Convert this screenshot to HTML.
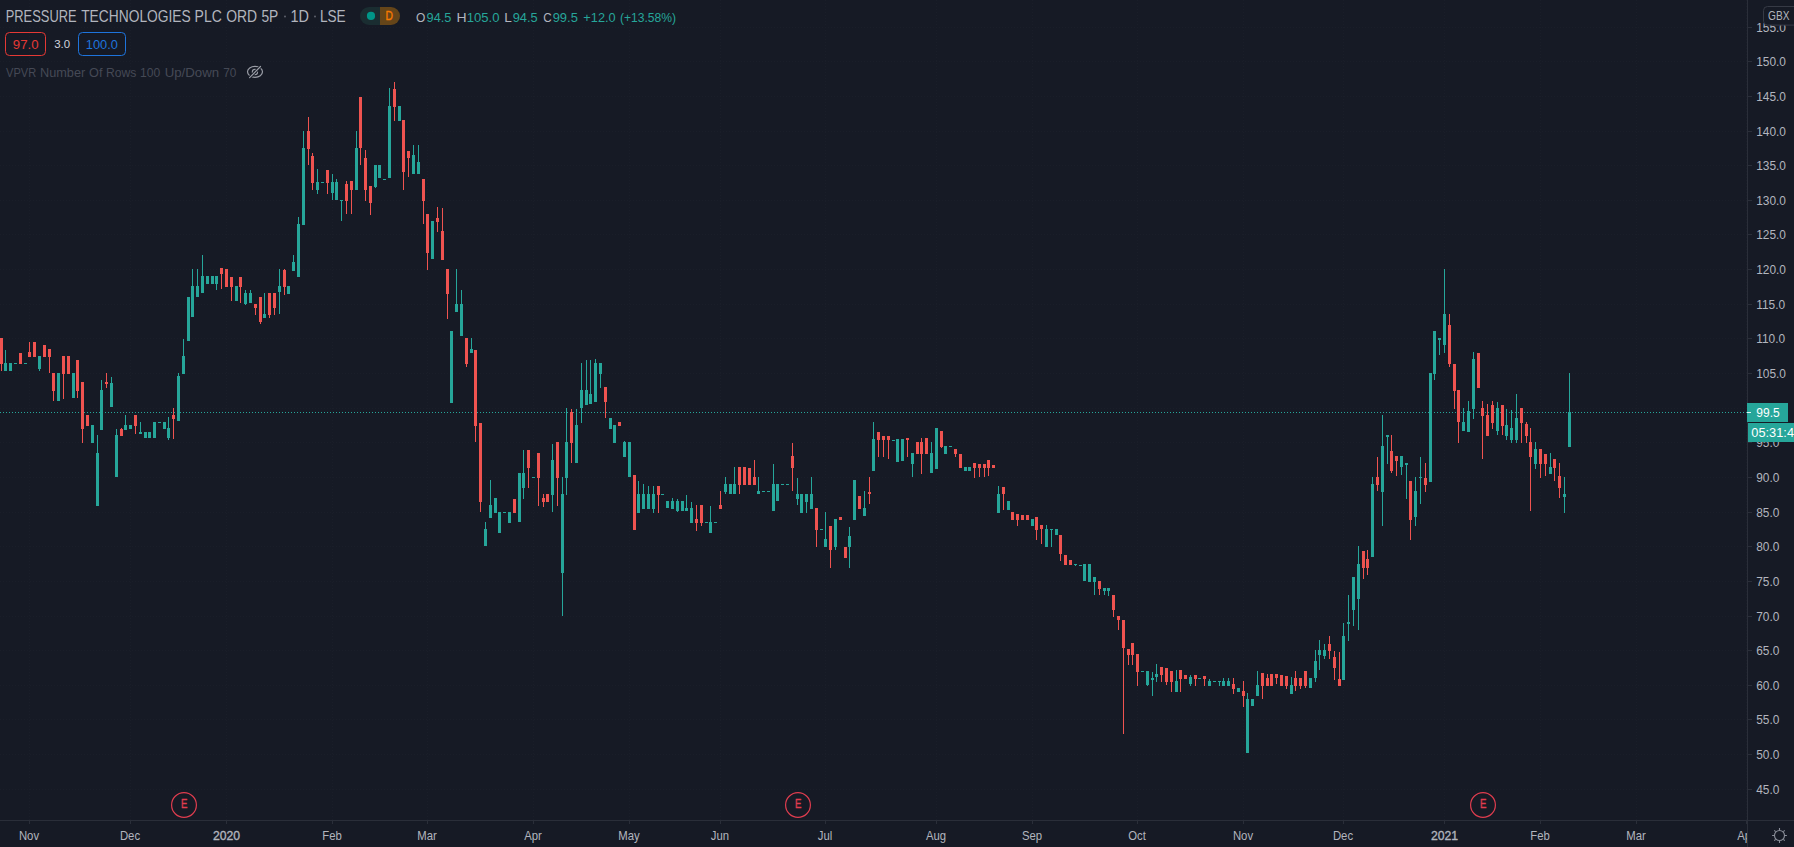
<!DOCTYPE html>
<html><head><meta charset="utf-8"><title>PRESSURE TECHNOLOGIES PLC ORD 5P chart</title>
<style>
html,body{margin:0;padding:0;background:#161a25;}
body{width:1794px;height:847px;overflow:hidden;position:relative;}
</style></head><body>
<svg width="1794" height="847" viewBox="0 0 1794 847" style="position:absolute;left:0;top:0" font-family="'Liberation Sans', sans-serif"><rect width="1794" height="847" fill="#161a25"/><path d="M0 789.5H1747M0 754.5H1747M0 719.5H1747M0 685.5H1747M0 650.5H1747M0 616.5H1747M0 581.5H1747M0 546.5H1747M0 512.5H1747M0 477.5H1747M0 442.5H1747M0 408.5H1747M0 373.5H1747M0 338.5H1747M0 304.5H1747M0 269.5H1747M0 234.5H1747M0 200.5H1747M0 165.5H1747M0 131.5H1747M0 96.5H1747M0 61.5H1747M0 27.5H1747M29.5 0V820M130.5 0V820M226.5 0V820M332.5 0V820M427.5 0V820M533.5 0V820M629.5 0V820M720.5 0V820M825.5 0V820M936.5 0V820M1032.5 0V820M1137.5 0V820M1243.5 0V820M1343.5 0V820M1444.5 0V820M1540.5 0V820M1636.5 0V820M1746.5 0V820" stroke="#1a1e29" stroke-width="1" fill="none" stroke-dasharray="1 2"/><path d="M0 412.5H1747" stroke="#26a69a" stroke-width="1" stroke-dasharray="1 2"/><g shape-rendering="crispEdges"><path d="M4 363h3v8h-3zM5 350h1v13h-1zM9 363h3v8h-3zM14 363h3v1h-3zM24 363h3v1h-3zM38 356h3v13h-3zM39 369h1v2h-1zM57 373h3v28h-3zM72 373h3v25h-3zM91 425h3v18h-3zM96 453h3v53h-3zM97 435h1v18h-1zM100 390h3v40h-3zM101 380h1v10h-1zM110 383h3v24h-3zM111 377h1v6h-1zM115 435h3v42h-3zM116 429h1v6h-1zM124 425h3v5h-3zM125 415h1v10h-1zM129 425h3v4h-3zM139 432h3v2h-3zM140 422h1v10h-1zM144 432h3v6h-3zM148 432h3v6h-3zM153 422h3v16h-3zM158 422h3v1h-3zM163 422h3v7h-3zM167 428h3v10h-3zM168 417h1v11h-1zM168 438h1v2h-1zM177 376h3v45h-3zM178 373h1v3h-1zM182 356h3v18h-3zM183 339h1v17h-1zM187 297h3v44h-3zM191 286h3v31h-3zM192 269h1v17h-1zM196 286h3v11h-3zM197 269h1v17h-1zM201 276h3v17h-3zM202 255h1v21h-1zM206 276h3v8h-3zM211 276h3v8h-3zM215 276h3v8h-3zM216 284h1v6h-1zM235 286h3v15h-3zM244 293h3v11h-3zM245 290h1v3h-1zM245 304h1v1h-1zM249 293h3v10h-3zM250 290h1v3h-1zM263 314h3v4h-3zM264 293h1v21h-1zM278 286h3v6h-3zM279 269h1v17h-1zM279 292h1v22h-1zM287 286h3v8h-3zM292 262h3v9h-3zM293 255h1v7h-1zM297 224h3v53h-3zM298 217h1v7h-1zM302 148h3v77h-3zM303 131h1v17h-1zM316 182h3v8h-3zM317 169h1v13h-1zM317 190h1v4h-1zM321 182h3v1h-3zM331 182h3v11h-3zM332 174h1v8h-1zM332 193h1v7h-1zM335 182h3v18h-3zM336 179h1v3h-1zM340 200h3v1h-3zM341 201h1v20h-1zM355 148h3v42h-3zM356 131h1v17h-1zM374 165h3v22h-3zM375 187h1v1h-1zM378 165h3v13h-3zM383 179h3v1h-3zM388 106h3v72h-3zM389 88h1v18h-1zM398 106h3v15h-3zM412 155h3v19h-3zM413 145h1v10h-1zM417 162h3v12h-3zM418 145h1v17h-1zM431 221h3v38h-3zM450 331h3v72h-3zM455 304h3v8h-3zM456 269h1v35h-1zM460 304h3v32h-3zM461 290h1v14h-1zM470 349h3v4h-3zM471 338h1v11h-1zM484 529h3v17h-3zM485 522h1v7h-1zM489 505h3v13h-3zM490 480h1v25h-1zM494 498h3v15h-3zM498 512h3v21h-3zM503 512h3v1h-3zM508 512h3v11h-3zM518 473h3v49h-3zM522 473h3v15h-3zM523 450h1v23h-1zM523 488h1v11h-1zM532 477h3v1h-3zM551 460h3v35h-3zM552 444h1v16h-1zM552 495h1v17h-1zM561 494h3v79h-3zM562 477h1v17h-1zM562 573h1v43h-1zM565 442h3v36h-3zM566 408h1v34h-1zM566 478h1v17h-1zM575 425h3v38h-3zM576 409h1v16h-1zM580 390h3v18h-3zM581 363h1v27h-1zM581 408h1v15h-1zM585 390h3v15h-3zM586 360h1v30h-1zM589 394h3v10h-3zM590 360h1v34h-1zM594 363h3v39h-3zM595 359h1v4h-1zM599 363h3v11h-3zM600 374h1v14h-1zM609 418h3v11h-3zM613 425h3v18h-3zM623 442h3v15h-3zM624 441h1v1h-1zM628 442h3v35h-3zM637 494h3v19h-3zM638 481h1v13h-1zM642 494h3v15h-3zM643 484h1v10h-1zM647 494h3v15h-3zM648 486h1v8h-1zM652 494h3v15h-3zM653 486h1v8h-1zM653 509h1v4h-1zM661 494h3v1h-3zM666 501h3v7h-3zM671 501h3v8h-3zM672 498h1v3h-1zM676 501h3v10h-3zM677 499h1v2h-1zM677 511h1v1h-1zM681 501h3v10h-3zM685 508h3v3h-3zM686 495h1v13h-1zM690 508h3v15h-3zM691 502h1v6h-1zM705 522h3v1h-3zM709 522h3v11h-3zM710 506h1v16h-1zM714 522h3v1h-3zM724 484h3v8h-3zM725 477h1v7h-1zM725 492h1v2h-1zM729 484h3v10h-3zM733 484h3v10h-3zM734 467h1v17h-1zM757 491h3v3h-3zM758 477h1v14h-1zM762 491h3v1h-3zM767 491h3v1h-3zM772 484h3v27h-3zM773 464h1v20h-1zM776 484h3v17h-3zM781 484h3v1h-3zM786 484h3v1h-3zM796 494h3v5h-3zM797 478h1v16h-1zM797 499h1v6h-1zM800 494h3v19h-3zM805 494h3v8h-3zM806 502h1v11h-1zM810 494h3v15h-3zM811 477h1v17h-1zM820 529h3v1h-3zM824 539h3v8h-3zM825 512h1v27h-1zM834 519h3v28h-3zM835 547h1v3h-1zM848 536h3v11h-3zM849 527h1v9h-1zM849 547h1v21h-1zM853 480h3v40h-3zM863 508h3v8h-3zM864 491h1v17h-1zM872 439h3v32h-3zM873 422h1v17h-1zM892 440h3v1h-3zM896 439h3v23h-3zM901 439h3v22h-3zM911 453h3v11h-3zM912 464h1v13h-1zM930 453h3v20h-3zM931 442h1v11h-1zM935 428h3v41h-3zM944 446h3v8h-3zM949 446h3v1h-3zM964 467h3v4h-3zM968 467h3v4h-3zM997 494h3v19h-3zM998 486h1v8h-1zM1007 501h3v9h-3zM1031 519h3v7h-3zM1045 529h3v18h-3zM1046 525h1v4h-1zM1050 529h3v1h-3zM1051 530h1v17h-1zM1055 529h3v6h-3zM1074 564h3v1h-3zM1075 565h1v1h-1zM1079 565h3v1h-3zM1083 564h3v17h-3zM1088 564h3v18h-3zM1093 577h3v5h-3zM1094 582h1v13h-1zM1103 588h3v3h-3zM1104 591h1v4h-1zM1107 588h3v3h-3zM1108 591h1v5h-1zM1141 671h3v1h-3zM1146 671h3v14h-3zM1147 685h1v1h-1zM1151 678h3v2h-3zM1152 672h1v6h-1zM1152 680h1v16h-1zM1155 674h3v3h-3zM1156 664h1v10h-1zM1156 677h1v5h-1zM1175 681h3v11h-3zM1176 670h1v11h-1zM1189 677h3v7h-3zM1190 675h1v2h-1zM1190 684h1v2h-1zM1198 678h3v1h-3zM1208 681h3v5h-3zM1209 679h1v2h-1zM1213 681h3v1h-3zM1218 681h3v1h-3zM1219 682h1v4h-1zM1222 681h3v5h-3zM1223 678h1v3h-1zM1227 681h3v5h-3zM1228 678h1v3h-1zM1237 688h3v4h-3zM1246 699h3v54h-3zM1247 693h1v6h-1zM1251 699h3v7h-3zM1256 685h3v11h-3zM1257 671h1v14h-1zM1290 685h3v9h-3zM1291 677h1v8h-1zM1309 678h3v10h-3zM1314 661h3v17h-3zM1315 650h1v11h-1zM1315 678h1v4h-1zM1318 650h3v5h-3zM1319 640h1v10h-1zM1319 655h1v15h-1zM1323 650h3v6h-3zM1324 644h1v6h-1zM1324 656h1v3h-1zM1342 636h3v44h-3zM1343 623h1v13h-1zM1347 622h3v2h-3zM1348 595h1v27h-1zM1348 624h1v17h-1zM1352 577h3v33h-3zM1353 610h1v16h-1zM1357 564h3v35h-3zM1358 546h1v18h-1zM1358 599h1v31h-1zM1371 484h3v73h-3zM1372 477h1v7h-1zM1381 446h3v46h-3zM1382 415h1v31h-1zM1382 492h1v34h-1zM1386 435h3v2h-3zM1387 437h1v27h-1zM1400 456h3v11h-3zM1401 467h1v8h-1zM1405 463h3v2h-3zM1406 465h1v34h-1zM1414 491h3v26h-3zM1415 477h1v14h-1zM1415 517h1v9h-1zM1419 477h3v1h-3zM1420 457h1v20h-1zM1420 478h1v26h-1zM1429 373h3v109h-3zM1433 331h3v43h-3zM1434 374h1v6h-1zM1438 338h3v2h-3zM1439 340h1v15h-1zM1443 314h3v31h-3zM1444 269h1v45h-1zM1444 345h1v8h-1zM1462 422h3v9h-3zM1463 408h1v14h-1zM1467 411h3v21h-3zM1468 401h1v10h-1zM1472 359h3v50h-3zM1473 352h1v7h-1zM1473 409h1v10h-1zM1496 408h3v23h-3zM1497 402h1v6h-1zM1497 431h1v4h-1zM1505 425h3v11h-3zM1506 409h1v16h-1zM1506 436h1v4h-1zM1510 428h3v12h-3zM1511 410h1v18h-1zM1511 440h1v3h-1zM1515 418h3v22h-3zM1516 394h1v24h-1zM1516 440h1v3h-1zM1534 449h3v15h-3zM1535 442h1v7h-1zM1535 464h1v5h-1zM1549 467h3v7h-3zM1550 453h1v14h-1zM1563 494h3v3h-3zM1564 477h1v17h-1zM1564 497h1v16h-1zM1568 412h3v35h-3zM1569 373h1v39h-1z" fill="#26a69a"/><path d="M0 338h3v26h-3zM1 364h1v7h-1zM19 353h3v11h-3zM28 352h3v5h-3zM29 342h1v10h-1zM33 342h3v15h-3zM43 345h3v12h-3zM48 349h3v8h-3zM49 357h1v16h-1zM52 373h3v18h-3zM53 391h1v10h-1zM62 356h3v18h-3zM63 374h1v25h-1zM67 356h3v18h-3zM76 360h3v31h-3zM77 391h1v7h-1zM81 382h3v47h-3zM82 429h1v14h-1zM86 415h3v11h-3zM105 382h3v2h-3zM106 373h1v9h-1zM106 384h1v4h-1zM120 429h3v7h-3zM121 428h1v1h-1zM134 415h3v11h-3zM135 426h1v8h-1zM172 415h3v4h-3zM173 408h1v7h-1zM173 419h1v20h-1zM220 268h3v6h-3zM221 274h1v15h-1zM225 269h3v18h-3zM230 277h3v10h-3zM231 287h1v14h-1zM239 277h3v10h-3zM240 287h1v16h-1zM254 304h3v4h-3zM255 308h1v7h-1zM259 297h3v25h-3zM260 322h1v2h-1zM268 293h3v22h-3zM269 315h1v3h-1zM273 293h3v15h-3zM274 308h1v7h-1zM283 270h3v17h-3zM284 269h1v1h-1zM284 287h1v8h-1zM307 131h3v18h-3zM308 117h1v14h-1zM308 149h1v16h-1zM311 156h3v27h-3zM312 153h1v3h-1zM312 183h1v7h-1zM326 170h3v13h-3zM327 183h1v11h-1zM345 184h3v17h-3zM346 181h1v3h-1zM346 201h1v13h-1zM350 181h3v9h-3zM351 190h1v24h-1zM359 97h3v51h-3zM360 148h1v17h-1zM364 158h3v32h-3zM365 150h1v8h-1zM365 190h1v11h-1zM369 186h3v17h-3zM370 203h1v12h-1zM393 89h3v18h-3zM394 82h1v7h-1zM394 107h1v14h-1zM402 120h3v52h-3zM403 172h1v18h-1zM407 151h3v7h-3zM408 158h1v19h-1zM422 179h3v22h-3zM423 201h1v23h-1zM426 214h3v39h-3zM427 253h1v17h-1zM436 218h3v4h-3zM437 207h1v11h-1zM437 222h1v10h-1zM441 231h3v29h-3zM442 208h1v23h-1zM446 269h3v25h-3zM447 294h1v25h-1zM465 338h3v26h-3zM466 364h1v3h-1zM474 350h3v76h-3zM475 426h1v16h-1zM479 423h3v79h-3zM480 502h1v10h-1zM513 499h3v14h-3zM527 450h3v18h-3zM528 468h1v20h-1zM537 453h3v25h-3zM538 478h1v28h-1zM542 498h3v4h-3zM543 494h1v4h-1zM543 502h1v5h-1zM546 494h3v8h-3zM556 442h3v36h-3zM557 478h1v28h-1zM570 412h3v31h-3zM571 409h1v3h-1zM571 443h1v20h-1zM604 387h3v15h-3zM605 402h1v16h-1zM618 422h3v4h-3zM633 475h3v55h-3zM657 486h3v9h-3zM658 495h1v18h-1zM695 519h3v4h-3zM696 505h1v14h-1zM696 523h1v8h-1zM700 505h3v18h-3zM701 523h1v3h-1zM719 505h3v4h-3zM720 491h1v14h-1zM738 467h3v18h-3zM739 485h1v9h-1zM743 467h3v18h-3zM748 468h3v17h-3zM753 477h3v8h-3zM754 460h1v17h-1zM791 456h3v12h-3zM792 443h1v13h-1zM792 468h1v23h-1zM815 508h3v22h-3zM816 530h1v17h-1zM829 526h3v24h-3zM830 550h1v18h-1zM839 517h3v3h-3zM844 547h3v11h-3zM858 496h3v13h-3zM868 492h3v2h-3zM869 477h1v15h-1zM869 494h1v10h-1zM877 432h3v8h-3zM878 440h1v17h-1zM882 436h3v4h-3zM883 440h1v17h-1zM887 436h3v4h-3zM888 440h1v19h-1zM906 438h3v2h-3zM907 440h1v17h-1zM916 442h3v12h-3zM920 442h3v12h-3zM921 438h1v4h-1zM921 454h1v20h-1zM925 438h3v16h-3zM940 431h3v16h-3zM941 447h1v1h-1zM954 449h3v5h-3zM955 454h1v3h-1zM959 454h3v14h-3zM973 463h3v5h-3zM974 468h1v10h-1zM978 464h3v4h-3zM979 468h1v9h-1zM983 464h3v4h-3zM984 468h1v9h-1zM987 460h3v8h-3zM988 468h1v8h-1zM992 465h3v3h-3zM1002 487h3v7h-3zM1003 494h1v16h-1zM1011 512h3v8h-3zM1016 514h3v6h-3zM1017 520h1v6h-1zM1021 515h3v5h-3zM1026 515h3v5h-3zM1035 517h3v13h-3zM1036 530h1v10h-1zM1040 525h3v4h-3zM1041 529h1v15h-1zM1059 535h3v19h-3zM1060 554h1v7h-1zM1064 555h3v10h-3zM1069 560h3v5h-3zM1098 581h3v8h-3zM1099 589h1v6h-1zM1112 595h3v15h-3zM1113 610h1v7h-1zM1117 616h3v4h-3zM1118 620h1v10h-1zM1122 620h3v28h-3zM1123 648h1v86h-1zM1127 649h3v6h-3zM1128 655h1v10h-1zM1131 643h3v12h-3zM1132 655h1v10h-1zM1136 654h3v18h-3zM1137 672h1v14h-1zM1160 667h3v8h-3zM1161 675h1v7h-1zM1165 668h3v14h-3zM1166 682h1v3h-1zM1170 671h3v11h-3zM1171 682h1v10h-1zM1179 670h3v9h-3zM1180 679h1v13h-1zM1184 675h3v4h-3zM1194 675h3v4h-3zM1195 679h1v7h-1zM1203 676h3v3h-3zM1204 679h1v7h-1zM1232 684h3v5h-3zM1233 678h1v6h-1zM1233 689h1v5h-1zM1242 691h3v5h-3zM1243 681h1v10h-1zM1243 696h1v11h-1zM1261 673h3v13h-3zM1262 686h1v13h-1zM1266 678h3v8h-3zM1267 674h1v4h-1zM1270 674h3v12h-3zM1275 674h3v4h-3zM1276 678h1v6h-1zM1280 675h3v11h-3zM1285 676h3v10h-3zM1286 686h1v3h-1zM1294 678h3v8h-3zM1295 671h1v7h-1zM1295 686h1v5h-1zM1299 678h3v8h-3zM1300 686h1v3h-1zM1304 671h3v15h-3zM1305 686h1v2h-1zM1328 644h3v7h-3zM1329 636h1v8h-1zM1329 651h1v8h-1zM1333 657h3v11h-3zM1334 651h1v6h-1zM1334 668h1v12h-1zM1338 679h3v7h-3zM1339 652h1v27h-1zM1362 551h3v17h-3zM1363 568h1v11h-1zM1366 559h3v9h-3zM1367 550h1v9h-1zM1367 568h1v7h-1zM1376 477h3v8h-3zM1377 457h1v20h-1zM1377 485h1v6h-1zM1390 451h3v20h-3zM1391 435h1v16h-1zM1391 471h1v2h-1zM1395 456h3v5h-3zM1396 461h1v15h-1zM1409 481h3v39h-3zM1410 520h1v20h-1zM1424 478h3v7h-3zM1425 463h1v15h-1zM1425 485h1v7h-1zM1448 325h3v39h-3zM1449 314h1v11h-1zM1449 364h1v3h-1zM1453 364h3v27h-3zM1454 391h1v18h-1zM1457 390h3v32h-3zM1458 422h1v21h-1zM1477 353h3v35h-3zM1481 408h3v8h-3zM1482 401h1v7h-1zM1482 416h1v43h-1zM1486 415h3v21h-3zM1487 404h1v11h-1zM1491 405h3v18h-3zM1492 401h1v4h-1zM1492 423h1v6h-1zM1501 405h3v21h-3zM1502 426h1v9h-1zM1520 408h3v15h-3zM1521 423h1v20h-1zM1525 424h3v12h-3zM1526 422h1v2h-1zM1526 436h1v7h-1zM1529 442h3v15h-3zM1530 428h1v14h-1zM1530 457h1v54h-1zM1539 449h3v15h-3zM1540 464h1v14h-1zM1544 454h3v10h-3zM1545 464h1v12h-1zM1553 459h3v9h-3zM1554 468h1v13h-1zM1558 476h3v12h-3zM1559 463h1v13h-1zM1559 488h1v10h-1z" fill="#ef5350"/></g><circle cx="184" cy="805" r="12.4" fill="#161a25" stroke="#e03d4f" stroke-width="1.2"/><text x="181.0" y="808.3" fill="#e03d4f" stroke="#e03d4f" stroke-width="0.35" font-size="12.6" textLength="6.4" lengthAdjust="spacingAndGlyphs">E</text><circle cx="798" cy="805" r="12.4" fill="#161a25" stroke="#e03d4f" stroke-width="1.2"/><text x="795.0" y="808.3" fill="#e03d4f" stroke="#e03d4f" stroke-width="0.35" font-size="12.6" textLength="6.4" lengthAdjust="spacingAndGlyphs">E</text><circle cx="1483" cy="805" r="12.4" fill="#161a25" stroke="#e03d4f" stroke-width="1.2"/><text x="1480.0" y="808.3" fill="#e03d4f" stroke="#e03d4f" stroke-width="0.35" font-size="12.6" textLength="6.4" lengthAdjust="spacingAndGlyphs">E</text><g shape-rendering="crispEdges"><rect x="1747" y="0" width="1" height="847" fill="#2a2e39"/><rect x="0" y="820" width="1794" height="1" fill="#2a2e39"/></g><path d="M1748 789.5h4M1748 754.5h4M1748 719.5h4M1748 685.5h4M1748 650.5h4M1748 616.5h4M1748 581.5h4M1748 546.5h4M1748 512.5h4M1748 477.5h4M1748 442.5h4M1748 408.5h4M1748 373.5h4M1748 338.5h4M1748 304.5h4M1748 269.5h4M1748 234.5h4M1748 200.5h4M1748 165.5h4M1748 131.5h4M1748 96.5h4M1748 61.5h4M1748 27.5h4" stroke="#2a2e39" stroke-width="1" shape-rendering="crispEdges"/><text x="1756.2" y="793.6" fill="#b2b5be" font-size="11.9">45.0</text><text x="1756.2" y="758.6" fill="#b2b5be" font-size="11.9">50.0</text><text x="1756.2" y="723.6" fill="#b2b5be" font-size="11.9">55.0</text><text x="1756.2" y="689.6" fill="#b2b5be" font-size="11.9">60.0</text><text x="1756.2" y="654.6" fill="#b2b5be" font-size="11.9">65.0</text><text x="1756.2" y="620.6" fill="#b2b5be" font-size="11.9">70.0</text><text x="1756.2" y="585.6" fill="#b2b5be" font-size="11.9">75.0</text><text x="1756.2" y="550.6" fill="#b2b5be" font-size="11.9">80.0</text><text x="1756.2" y="516.6" fill="#b2b5be" font-size="11.9">85.0</text><text x="1756.2" y="481.6" fill="#b2b5be" font-size="11.9">90.0</text><text x="1756.2" y="446.6" fill="#b2b5be" font-size="11.9">95.0</text><text x="1756.2" y="412.6" fill="#b2b5be" font-size="11.9">100.0</text><text x="1756.2" y="377.6" fill="#b2b5be" font-size="11.9">105.0</text><text x="1756.2" y="342.6" fill="#b2b5be" font-size="11.9">110.0</text><text x="1756.2" y="308.6" fill="#b2b5be" font-size="11.9">115.0</text><text x="1756.2" y="273.6" fill="#b2b5be" font-size="11.9">120.0</text><text x="1756.2" y="238.6" fill="#b2b5be" font-size="11.9">125.0</text><text x="1756.2" y="204.6" fill="#b2b5be" font-size="11.9">130.0</text><text x="1756.2" y="169.6" fill="#b2b5be" font-size="11.9">135.0</text><text x="1756.2" y="135.6" fill="#b2b5be" font-size="11.9">140.0</text><text x="1756.2" y="100.6" fill="#b2b5be" font-size="11.9">145.0</text><text x="1756.2" y="65.6" fill="#b2b5be" font-size="11.9">150.0</text><text x="1756.2" y="31.6" fill="#b2b5be" font-size="11.9">155.0</text><path d="M29.5 821v3M130.5 821v3M226.5 821v3M332.5 821v3M427.5 821v3M533.5 821v3M629.5 821v3M720.5 821v3M825.5 821v3M936.5 821v3M1032.5 821v3M1137.5 821v3M1243.5 821v3M1343.5 821v3M1444.5 821v3M1540.5 821v3M1636.5 821v3M1746.5 821v3" stroke="#2a2e39" stroke-width="1" shape-rendering="crispEdges"/><clipPath id="tc"><rect x="0" y="821" width="1747" height="26"/></clipPath><g clip-path="url(#tc)"><text x="29.0" y="840" fill="#b2b5be" font-size="12.2" text-anchor="middle" textLength="20.18" lengthAdjust="spacingAndGlyphs">Nov</text><text x="130.0" y="840" fill="#b2b5be" font-size="12.2" text-anchor="middle" textLength="20.18" lengthAdjust="spacingAndGlyphs">Dec</text><text x="226.5" y="840" fill="#b2b5be" font-size="12.2" text-anchor="middle" stroke="#b2b5be" stroke-width="0.35">2020</text><text x="332.0" y="840" fill="#b2b5be" font-size="12.2" text-anchor="middle" textLength="19.55" lengthAdjust="spacingAndGlyphs">Feb</text><text x="427.0" y="840" fill="#b2b5be" font-size="12.2" text-anchor="middle" textLength="19.54" lengthAdjust="spacingAndGlyphs">Mar</text><text x="533.0" y="840" fill="#b2b5be" font-size="12.2" text-anchor="middle" textLength="17.66" lengthAdjust="spacingAndGlyphs">Apr</text><text x="629.0" y="840" fill="#b2b5be" font-size="12.2" text-anchor="middle" textLength="21.43" lengthAdjust="spacingAndGlyphs">May</text><text x="720.0" y="840" fill="#b2b5be" font-size="12.2" text-anchor="middle" textLength="18.29" lengthAdjust="spacingAndGlyphs">Jun</text><text x="825.0" y="840" fill="#b2b5be" font-size="12.2" text-anchor="middle" textLength="14.50" lengthAdjust="spacingAndGlyphs">Jul</text><text x="936.0" y="840" fill="#b2b5be" font-size="12.2" text-anchor="middle" textLength="20.19" lengthAdjust="spacingAndGlyphs">Aug</text><text x="1032.0" y="840" fill="#b2b5be" font-size="12.2" text-anchor="middle" textLength="20.19" lengthAdjust="spacingAndGlyphs">Sep</text><text x="1137.0" y="840" fill="#b2b5be" font-size="12.2" text-anchor="middle" textLength="17.65" lengthAdjust="spacingAndGlyphs">Oct</text><text x="1243.0" y="840" fill="#b2b5be" font-size="12.2" text-anchor="middle" textLength="20.18" lengthAdjust="spacingAndGlyphs">Nov</text><text x="1343.0" y="840" fill="#b2b5be" font-size="12.2" text-anchor="middle" textLength="20.18" lengthAdjust="spacingAndGlyphs">Dec</text><text x="1444.5" y="840" fill="#b2b5be" font-size="12.2" text-anchor="middle" stroke="#b2b5be" stroke-width="0.35">2021</text><text x="1540.0" y="840" fill="#b2b5be" font-size="12.2" text-anchor="middle" textLength="19.55" lengthAdjust="spacingAndGlyphs">Feb</text><text x="1636.0" y="840" fill="#b2b5be" font-size="12.2" text-anchor="middle" textLength="19.54" lengthAdjust="spacingAndGlyphs">Mar</text><text x="1746.0" y="840" fill="#b2b5be" font-size="12.2" text-anchor="middle" textLength="17.66" lengthAdjust="spacingAndGlyphs">Apr</text></g><rect x="1763.5" y="6.5" width="40" height="18.6" rx="4" fill="#161a25" stroke="#363a45" stroke-width="1"/><text x="1768.1" y="20.1" fill="#b2b5be" font-size="12.4" textLength="21.4" lengthAdjust="spacingAndGlyphs">GBX</text><rect x="1747" y="403" width="41" height="19" fill="#26a69a"/><rect x="1747" y="412" width="4" height="1" fill="#e8f6f4" shape-rendering="crispEdges"/><text x="1756.3" y="416.9" fill="#ffffff" font-size="12">99.5</text><rect x="1748" y="423" width="46" height="19" fill="#26a69a"/><text x="1751.3" y="436.8" fill="#ffffff" font-size="12.8">05:31:45</text><circle cx="1779.5" cy="835.5" r="5.0" fill="none" stroke="#8a8e99" stroke-width="1.1"/><path d="M1785.00 835.50L1786.90 835.50M1783.39 839.39L1784.73 840.73M1779.50 841.00L1779.50 842.90M1775.61 839.39L1774.27 840.73M1774.00 835.50L1772.10 835.50M1775.61 831.61L1774.27 830.27M1779.50 830.00L1779.50 828.10M1783.39 831.61L1784.73 830.27" stroke="#8a8e99" stroke-width="1.1"/><text x="5.64" y="21.8" fill="#b2b5be" font-size="17" textLength="71.01" lengthAdjust="spacingAndGlyphs">PRESSURE</text><text x="81.19" y="21.8" fill="#b2b5be" font-size="17" textLength="109.54" lengthAdjust="spacingAndGlyphs">TECHNOLOGIES</text><text x="194.55" y="21.8" fill="#b2b5be" font-size="17" textLength="27.28" lengthAdjust="spacingAndGlyphs">PLC</text><text x="226.24" y="21.8" fill="#b2b5be" font-size="17" textLength="30.93" lengthAdjust="spacingAndGlyphs">ORD</text><text x="261.45" y="21.8" fill="#b2b5be" font-size="17" textLength="16.88" lengthAdjust="spacingAndGlyphs">5P</text><text x="290.50" y="21.8" fill="#b2b5be" font-size="17" textLength="18.49" lengthAdjust="spacingAndGlyphs">1D</text><text x="319.98" y="21.8" fill="#b2b5be" font-size="17" textLength="25.70" lengthAdjust="spacingAndGlyphs">LSE</text><circle cx="285" cy="16.6" r="1" fill="#5d606b"/><circle cx="315" cy="16.6" r="1" fill="#5d606b"/><clipPath id="pill"><rect x="360" y="7" width="40" height="18" rx="9"/></clipPath><g clip-path="url(#pill)"><rect x="360" y="7" width="20" height="18" fill="#1a2d31"/><rect x="380" y="7" width="20" height="18" fill="#654519"/></g><circle cx="371" cy="15.9" r="4.1" fill="#009688"/><text x="385.46" y="20.3" fill="#f77a00" font-size="12.9" textLength="7.44" lengthAdjust="spacingAndGlyphs" stroke="#f77a00" stroke-width="0.4">D</text><text x="416.03" y="21.8" fill="#b2b5be" font-size="12.4" textLength="9.34" lengthAdjust="spacingAndGlyphs">O</text><text x="426.60" y="21.8" fill="#26a69a" font-size="12.4" textLength="24.83" lengthAdjust="spacingAndGlyphs">94.5</text><text x="456.45" y="21.8" fill="#b2b5be" font-size="12.4" textLength="10.08" lengthAdjust="spacingAndGlyphs">H</text><text x="466.70" y="21.8" fill="#26a69a" font-size="12.4" textLength="32.81" lengthAdjust="spacingAndGlyphs">105.0</text><text x="504.38" y="21.8" fill="#b2b5be" font-size="12.4" textLength="7.57" lengthAdjust="spacingAndGlyphs">L</text><text x="512.70" y="21.8" fill="#26a69a" font-size="12.4" textLength="25.04" lengthAdjust="spacingAndGlyphs">94.5</text><text x="543.31" y="21.8" fill="#b2b5be" font-size="12.4" textLength="8.44" lengthAdjust="spacingAndGlyphs">C</text><text x="552.69" y="21.8" fill="#26a69a" font-size="12.4" textLength="25.15" lengthAdjust="spacingAndGlyphs">99.5</text><text x="583.38" y="21.8" fill="#26a69a" font-size="12.4" textLength="32.32" lengthAdjust="spacingAndGlyphs">+12.0</text><text x="619.95" y="21.8" fill="#26a69a" font-size="12.4" textLength="56.10" lengthAdjust="spacingAndGlyphs">(+13.58%)</text><rect x="5.5" y="32.5" width="40" height="23" rx="4" fill="none" stroke="#e53935" stroke-width="1"/><text x="12.88" y="48.6" fill="#e53935" font-size="12.6" textLength="25.74" lengthAdjust="spacingAndGlyphs">97.0</text><text x="54.26" y="48.1" fill="#d1d4dc" font-size="11.2" textLength="15.88" lengthAdjust="spacingAndGlyphs">3.0</text><rect x="78.5" y="32.5" width="47" height="23" rx="4" fill="none" stroke="#1e74dc" stroke-width="1"/><text x="85.82" y="48.9" fill="#1e74dc" font-size="12.6" textLength="32.08" lengthAdjust="spacingAndGlyphs">100.0</text><text x="6.05" y="76.9" fill="#454955" font-size="13" textLength="30.16" lengthAdjust="spacingAndGlyphs">VPVR</text><text x="39.96" y="76.9" fill="#454955" font-size="13" textLength="45.26" lengthAdjust="spacingAndGlyphs">Number</text><text x="89.10" y="76.9" fill="#454955" font-size="13" textLength="13.38" lengthAdjust="spacingAndGlyphs">Of</text><text x="106.10" y="76.9" fill="#454955" font-size="13" textLength="30.33" lengthAdjust="spacingAndGlyphs">Rows</text><text x="140.08" y="76.9" fill="#454955" font-size="13" textLength="20.19" lengthAdjust="spacingAndGlyphs">100</text><text x="164.68" y="76.9" fill="#454955" font-size="13" textLength="54.48" lengthAdjust="spacingAndGlyphs">Up/Down</text><text x="223.19" y="76.9" fill="#454955" font-size="13" textLength="13.17" lengthAdjust="spacingAndGlyphs">70</text><ellipse cx="255" cy="71.85" rx="7.5" ry="5.45" fill="none" stroke="#9a9da6" stroke-width="1.2"/><circle cx="254.95" cy="72" r="2.6" fill="none" stroke="#9a9da6" stroke-width="1.15"/><path d="M249.3 77.9L260.8 66.2" stroke="#161a25" stroke-width="3.0"/><path d="M249.6 77.6L260.5 66.5" stroke="#9a9da6" stroke-width="1.2" stroke-linecap="round"/></svg>
</body></html>
